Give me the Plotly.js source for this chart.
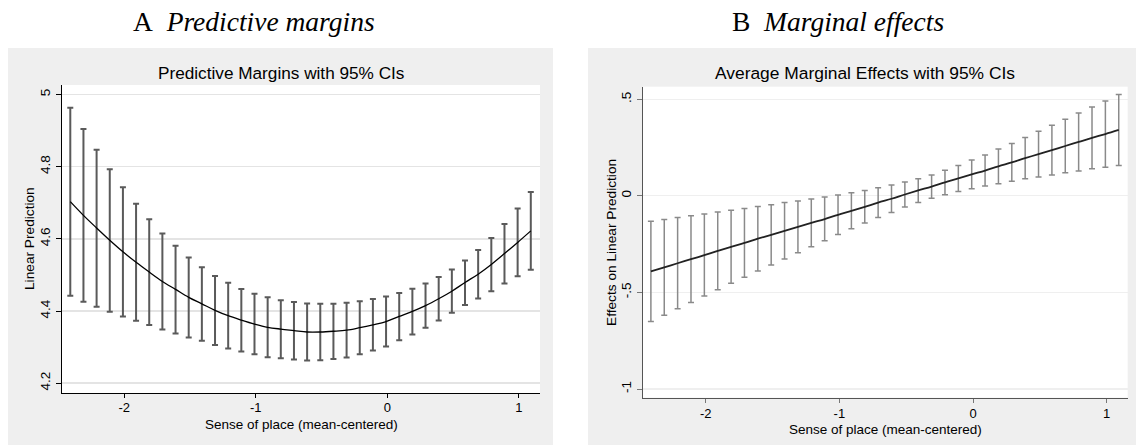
<!DOCTYPE html>
<html>
<head>
<meta charset="utf-8">
<script src="https://cdn.plot.ly/plotly-3.0.1.min.js"></script>
<style>html,body{margin:0;padding:0;background:#fff;}#chart{width:1136px;height:445px;}</style>
</head>
<body>
<div id="chart"></div>
<script>
// Sense of place (mean-centered) evaluation points
const xVals = [-2.41,-2.31,-2.21,-2.11,-2.01,-1.91,-1.81,-1.71,-1.61,-1.51,-1.41,-1.31,-1.21,-1.11,-1.01,-0.91,-0.81,-0.71,-0.61,-0.51,-0.41,-0.31,-0.21,-0.11,-0.01,0.09,0.19,0.29,0.39,0.49,0.59,0.69,0.79,0.89,0.99,1.09];

// Panel A: predictive margins (linear prediction) with 95% CIs
const marginMean = [4.703,4.665,4.630,4.596,4.564,4.535,4.508,4.482,4.460,4.438,4.420,4.402,4.387,4.375,4.364,4.355,4.350,4.346,4.342,4.342,4.344,4.347,4.354,4.362,4.371,4.385,4.399,4.415,4.434,4.455,4.479,4.502,4.529,4.559,4.590,4.622];
const marginUpper = [4.963,4.904,4.847,4.793,4.743,4.697,4.654,4.615,4.581,4.548,4.521,4.497,4.478,4.461,4.448,4.438,4.430,4.425,4.421,4.420,4.420,4.423,4.427,4.433,4.440,4.450,4.462,4.476,4.494,4.515,4.540,4.569,4.602,4.641,4.684,4.730];
const marginLower = [4.442,4.426,4.412,4.398,4.385,4.373,4.361,4.349,4.338,4.327,4.318,4.306,4.296,4.288,4.280,4.272,4.269,4.266,4.263,4.264,4.267,4.271,4.280,4.291,4.302,4.319,4.335,4.354,4.374,4.395,4.417,4.435,4.455,4.476,4.496,4.514];

// Panel B: average marginal effects with 95% CIs
const effectMean = [-0.391,-0.370,-0.349,-0.328,-0.307,-0.285,-0.264,-0.244,-0.222,-0.202,-0.181,-0.161,-0.140,-0.120,-0.098,-0.078,-0.057,-0.035,-0.015,0.007,0.028,0.048,0.070,0.090,0.111,0.131,0.153,0.173,0.195,0.216,0.237,0.258,0.279,0.300,0.320,0.341];
const effectUpper = [-0.131,-0.122,-0.112,-0.103,-0.094,-0.084,-0.075,-0.065,-0.055,-0.046,-0.035,-0.027,-0.016,-0.006,0.004,0.016,0.028,0.042,0.056,0.072,0.089,0.108,0.133,0.157,0.185,0.211,0.242,0.271,0.302,0.334,0.365,0.396,0.429,0.460,0.491,0.524];
const effectLower = [-0.651,-0.618,-0.585,-0.552,-0.519,-0.486,-0.453,-0.422,-0.389,-0.358,-0.327,-0.294,-0.263,-0.233,-0.200,-0.171,-0.141,-0.112,-0.086,-0.058,-0.034,-0.013,0.006,0.022,0.037,0.051,0.063,0.075,0.088,0.098,0.108,0.119,0.129,0.140,0.148,0.157];

// Tick labels
const xTicks = [-2,-1,0,1];
const xTickText = ['-2','-1','0','1'];
const yTicksA = [4.2,4.4,4.6,4.8,5];
const yTickTextA = ['4.2','4.4','4.6','4.8','5'];
const yTicksB = [-1,-0.5,0,0.5];
const yTickTextB = ['-1','-.5','0','.5'];

// Text
const headingA = 'A\u00a0\u00a0<i>Predictive margins</i>';
const headingB = 'B\u00a0\u00a0<i>Marginal effects</i>';
const titleA = 'Predictive Margins with 95% CIs';
const titleB = 'Average Marginal Effects with 95% CIs';
const xTitle = 'Sense of place (mean-centered)';
const yTitleA = 'Linear Prediction';
const yTitleB = 'Effects on Linear Prediction';

const W = 1136, H = 445;
const px = v => v / W;
const py = v => 1 - v / H;
const FONT = '"Liberation Sans", Arial, Helvetica, sans-serif';
const SERIF = '"Liberation Serif", "Times New Roman", serif';

const diff = (a, b) => a.map((v, i) => v - b[i]);

const traces = [
  {
    x: xVals, y: marginMean, xaxis: 'x', yaxis: 'y', type: 'scatter', mode: 'lines',
    line: {color: '#000000', width: 1.3, shape: 'spline', smoothing: 1},
    error_y: {type: 'data', symmetric: false, array: diff(marginUpper, marginMean), arrayminus: diff(marginMean, marginLower),
      color: '#5a5a5a', thickness: 2, width: 3},
    hoverinfo: 'skip', showlegend: false
  },
  {
    x: xVals, y: effectMean, xaxis: 'x2', yaxis: 'y2', type: 'scatter', mode: 'lines',
    line: {color: '#222222', width: 1.8, shape: 'spline', smoothing: 1},
    error_y: {type: 'data', symmetric: false, array: diff(effectUpper, effectMean), arrayminus: diff(effectMean, effectLower),
      color: '#8a8a8a', thickness: 1.5, width: 3},
    hoverinfo: 'skip', showlegend: false
  }
];

const axBase = {
  showline: true, zeroline: false, ticks: 'outside', ticklen: 5,
  tickfont: {family: FONT, size: 13.5, color: '#000'},
  fixedrange: true
};
const xTickFont = {family: FONT, size: 13, color: '#000'};

const layout = {
  width: W, height: H,
  margin: {l: 0, r: 0, t: 0, b: 0},
  paper_bgcolor: '#efefef',
  plot_bgcolor: '#ffffff',
  showlegend: false,
  font: {family: FONT, color: '#000'},
  xaxis: Object.assign({}, axBase, {
    domain: [px(62), px(540)], range: [-2.473, 1.16], anchor: 'y',
    tickvals: xTicks, ticktext: xTickText, showgrid: false, tickfont: xTickFont, ticklen: 4, ticklabelstandoff: -2,
    linecolor: '#000', linewidth: 1.3, tickcolor: '#000', tickwidth: 1
  }),
  yaxis: Object.assign({}, axBase, {
    domain: [1 - 393 / H, 1 - 85 / H], range: [4.173, 5.026], anchor: 'x',
    tickvals: yTicksA, ticktext: yTickTextA, tickangle: -90,
    showgrid: true, gridcolor: '#e4e4e4', gridwidth: 1.6,
    linecolor: '#000', linewidth: 1.3, tickcolor: '#000', tickwidth: 1
  }),
  xaxis2: Object.assign({}, axBase, {
    domain: [px(643), px(1127.7)], range: [-2.469, 1.157], anchor: 'y2',
    tickvals: xTicks, ticktext: xTickText, showgrid: false, tickfont: xTickFont, ticklen: 4, ticklabelstandoff: -1,
    linecolor: '#555', linewidth: 1.3, tickcolor: '#777', tickwidth: 1
  }),
  yaxis2: Object.assign({}, axBase, {
    domain: [1 - 397.7 / H, 1 - 86.7 / H], range: [-1.045, 0.565], anchor: 'x2',
    tickvals: yTicksB, ticktext: yTickTextB, tickangle: -90,
    showgrid: true, gridcolor: '#efefef', gridwidth: 1.2,
    linecolor: '#555', linewidth: 1.3, tickcolor: '#777', tickwidth: 1
  }),
  shapes: [
    {type: 'rect', xref: 'paper', yref: 'paper', x0: 0, x1: 1, y0: py(48), y1: 1, fillcolor: '#ffffff', line: {width: 0}, layer: 'below'},
    {type: 'rect', xref: 'paper', yref: 'paper', x0: 0, x1: px(8), y0: 0, y1: 1, fillcolor: '#ffffff', line: {width: 0}, layer: 'below'},
    {type: 'rect', xref: 'paper', yref: 'paper', x0: px(553), x1: px(588), y0: 0, y1: 1, fillcolor: '#ffffff', line: {width: 0}, layer: 'below'}
  ],
  annotations: [
    {text: headingA, xref: 'paper', yref: 'paper', x: px(131), y: py(22), xanchor: 'left', yanchor: 'middle', showarrow: false,
      font: {family: SERIF, size: 27.5, color: '#000'}},
    {text: headingB, xref: 'paper', yref: 'paper', x: px(730), y: py(22), xanchor: 'left', yanchor: 'middle', showarrow: false,
      font: {family: SERIF, size: 27.5, color: '#000'}},
    {text: titleA, xref: 'paper', yref: 'paper', x: px(281), y: py(73), xanchor: 'center', yanchor: 'middle', showarrow: false,
      font: {family: FONT, size: 17.2, color: '#000'}},
    {text: titleB, xref: 'paper', yref: 'paper', x: px(864.5), y: py(73), xanchor: 'center', yanchor: 'middle', showarrow: false,
      font: {family: FONT, size: 17.4, color: '#000'}},
    {text: xTitle, xref: 'paper', yref: 'paper', x: px(301), y: py(424), xanchor: 'center', yanchor: 'middle', showarrow: false,
      font: {family: FONT, size: 13.5, color: '#000'}},
    {text: xTitle, xref: 'paper', yref: 'paper', x: px(885), y: py(429), xanchor: 'center', yanchor: 'middle', showarrow: false,
      font: {family: FONT, size: 13.5, color: '#000'}},
    {text: yTitleA, xref: 'paper', yref: 'paper', x: px(29), y: py(239), xanchor: 'center', yanchor: 'middle', textangle: -90, showarrow: false,
      font: {family: FONT, size: 13.7, color: '#000'}},
    {text: yTitleB, xref: 'paper', yref: 'paper', x: px(612), y: py(242), xanchor: 'center', yanchor: 'middle', textangle: -90, showarrow: false,
      font: {family: FONT, size: 13.7, color: '#000'}}
  ]
};

Plotly.newPlot('chart', traces, layout, {displayModeBar: false, staticPlot: true});
</script>
</body>
</html>
